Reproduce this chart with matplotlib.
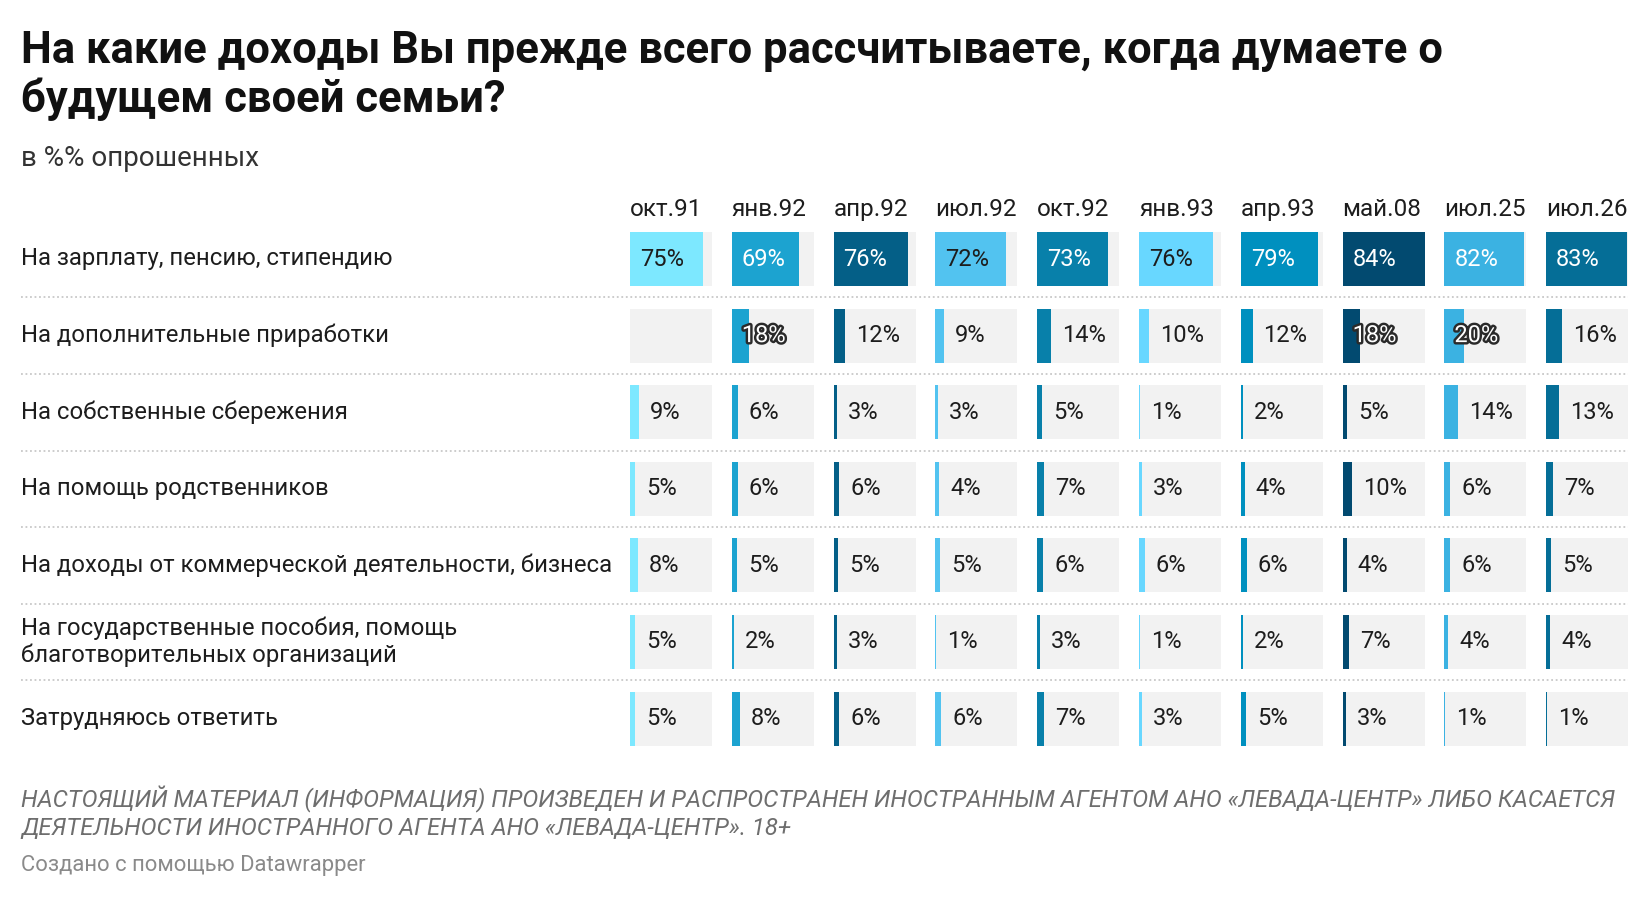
import matplotlib
matplotlib.use("Agg")
import matplotlib.pyplot as plt
from matplotlib import patheffects
from matplotlib import font_manager

W, H, DPI = 1648, 898, 100

plt.rcParams["font.family"] = ["Roboto", "DejaVu Sans"]

# ---------------------------------------------------------------------------
# данные
# ---------------------------------------------------------------------------
periods = ["окт.91", "янв.92", "апр.92", "июл.92", "окт.92",
           "янв.93", "апр.93", "май.08", "июл.25", "июл.26"]

row_labels = [
    "На зарплату, пенсию, стипендию",
    "На дополнительные приработки",
    "На собственные сбережения",
    "На помощь родственников",
    "На доходы от коммерческой деятельности, бизнеса",
    "На государственные пособия, помощь\nблаготворительных организаций",
    "Затрудняюсь ответить",
]

salary      = [75, 69, 76, 72, 73, 76, 79, 84, 82, 83]
extra_work  = [None, 18, 12, 9, 14, 10, 12, 18, 20, 16]
savings     = [9, 6, 3, 3, 5, 1, 2, 5, 14, 13]
relatives   = [5, 6, 6, 4, 7, 3, 4, 10, 6, 7]
business    = [8, 5, 5, 5, 6, 6, 6, 4, 6, 5]
benefits    = [5, 2, 3, 1, 3, 1, 2, 7, 4, 4]
hard_to_say = [5, 8, 6, 6, 7, 3, 5, 3, 1, 1]

table = [salary, extra_work, savings, relatives, business, benefits, hard_to_say]

col_colors = ["#7de8ff", "#1ca3d0", "#045f87", "#52c3f0", "#0880aa",
              "#68d7ff", "#0090bf", "#024a70", "#3bb2e2", "#056e97"]
light_bar = [True, False, False, True, False, True, False, False, False, False]

TEXT = "#1d1d1d"
vmax = max(v for r in table for v in r if v is not None)

fig = plt.figure(figsize=(W / DPI, H / DPI), dpi=DPI)
fig.patch.set_facecolor("white")

# фон для текстов — пиксельные координаты
bg = fig.add_axes([0, 0, 1, 1])
bg.set_xlim(0, W)
bg.set_ylim(H, 0)
bg.axis("off")

bg.text(21, 63, "На какие доходы Вы прежде всего рассчитываете, когда думаете о",
        fontsize=31.4, fontweight="bold", color="#111111", va="baseline")
bg.text(21, 112, "будущем своей семьи?",
        fontsize=31.4, fontweight="bold", color="#111111", va="baseline")
bg.text(21, 166, "в %% опрошенных", fontsize=20, color="#333333", va="baseline")

# сетка строк
pitch, n_rows = 76.6, len(row_labels)
top = 259 - pitch / 2
for i in range(1, n_rows):
    y = top + pitch * i
    bg.plot([21, 1628], [y, y], color="#c8c8c8", lw=1.3, ls=(0, (1, 1.5)))

for i, lab in enumerate(row_labels):
    bg.text(21, top + pitch * i + pitch / 2, lab, fontsize=17.2, color=TEXT,
            va="center", ha="left", linespacing=1.2)

# колонки
col_left, col_pitch, col_w = 630, 101.8, 82
bar_h = 54 / pitch
for j, per in enumerate(periods):
    x0 = col_left + col_pitch * j
    bg.text(x0, 216, per, fontsize=17.5, color=TEXT, va="baseline", ha="left")

    ax = fig.add_axes([x0 / W, (H - top - pitch * n_rows) / H,
                       col_w / W, pitch * n_rows / H])
    ax.set_xlim(0, vmax)
    ax.set_ylim(n_rows - 0.5, -0.5)
    ax.axis("off")

    ys = list(range(n_rows))
    vals = [table[i][j] for i in ys]
    ax.barh(ys, [vmax] * n_rows, height=bar_h, color="#f2f2f2", lw=0)
    ax.barh(ys, [v if v is not None else 0 for v in vals], height=bar_h,
            color=col_colors[j], lw=0)

    for i, v in zip(ys, vals):
        if v is None:
            continue
        lab = f"{v}%"
        if v >= 17:
            if v >= 30:
                c = TEXT if light_bar[j] else "white"
                ax.annotate(lab, (0, i), xytext=(10, 0), textcoords="offset pixels",
                            va="center", ha="left", fontsize=17, color=c)
            else:
                t = ax.annotate(lab, (0, i), xytext=(10, 0), textcoords="offset pixels",
                                va="center", ha="left", fontsize=17, color="white")
                t.set_path_effects([patheffects.withStroke(linewidth=3.5, foreground="#2a2a2a")])
        else:
            ax.annotate(lab, (v, i), xytext=(11, 0), textcoords="offset pixels",
                        va="center", ha="left", fontsize=17, color=TEXT)

# подвал
narrow = [f.name for f in font_manager.fontManager.ttflist if f.name == "Liberation Sans Narrow"]
foot_family = ["Liberation Sans Narrow", "Roboto"] if narrow else ["Roboto"]
foot1 = ("НАСТОЯЩИЙ МАТЕРИАЛ (ИНФОРМАЦИЯ) ПРОИЗВЕДЕН И РАСПРОСТРАНЕН ИНОСТРАННЫМ "
         "АГЕНТОМ АНО «ЛЕВАДА-ЦЕНТР» ЛИБО КАСАЕТСЯ")
foot2 = "ДЕЯТЕЛЬНОСТИ ИНОСТРАННОГО АГЕНТА АНО «ЛЕВАДА-ЦЕНТР». 18+"
t1 = bg.text(21, 807, foot1, fontsize=17, style="italic", color="#6e6e6e",
             va="baseline", family=foot_family)
t2 = bg.text(21, 835, foot2, fontsize=17, style="italic", color="#6e6e6e",
             va="baseline", family=foot_family)
fig.canvas.draw()
wpx = t1.get_window_extent().width
scale = 1598 / wpx
t1.set_fontsize(17 * scale)
t2.set_fontsize(17 * scale)

bg.text(21, 871, "Создано с помощью Datawrapper", fontsize=15.8, color="#8a8a8a",
        va="baseline")

fig.savefig("out.png", dpi=DPI, facecolor="white")
